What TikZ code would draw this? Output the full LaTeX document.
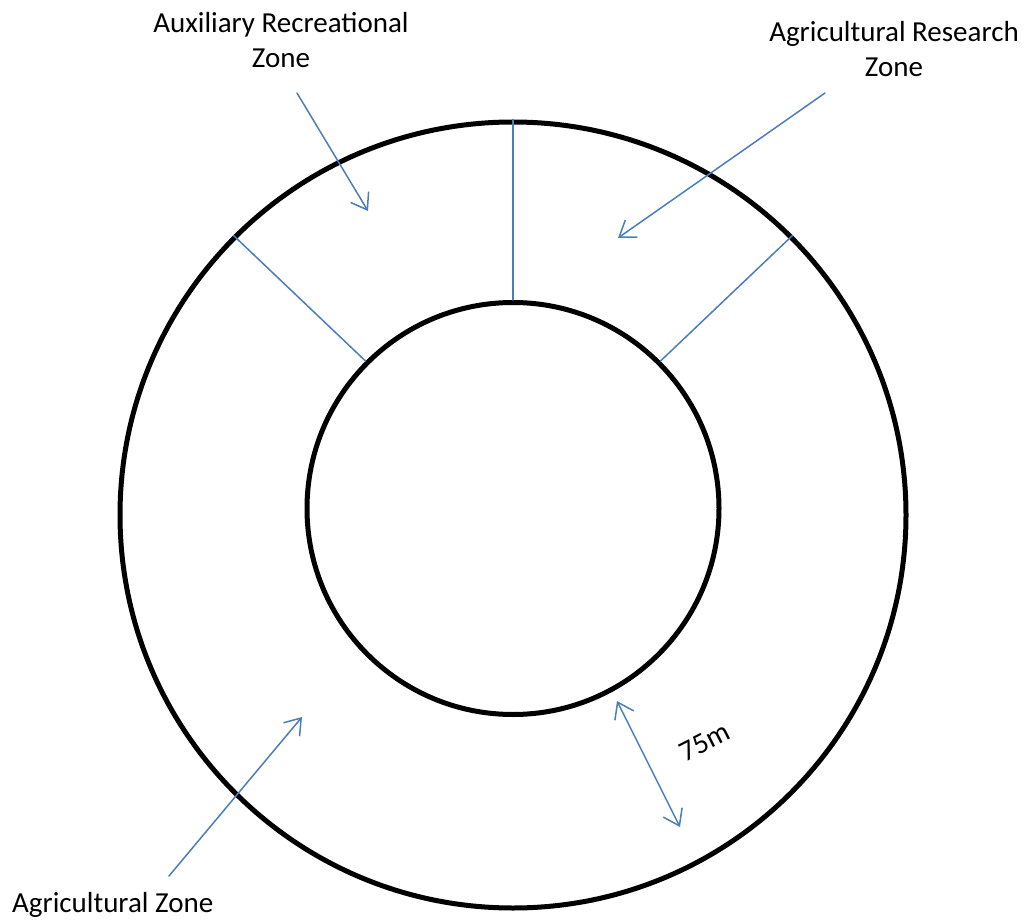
\documentclass[tikz,border=0pt]{standalone}
\usepackage{fontspec}
\setmainfont{Carlito}
\usetikzlibrary{arrows.meta}
\definecolor{zoneblue}{RGB}{74,126,187}

\begin{document}
\begin{tikzpicture}[x=1pt,y=-1pt,line cap=round,line join=round,
    barb/.tip={Straight Barb[length=15pt,width=21pt,line width=1.5pt]},
    ring/.style={draw,circle,line width=5pt,inner sep=0pt},
    divider/.style={zoneblue,line width=1.5pt},
    pointer/.style={zoneblue,line width=1.5pt,-barb},
    label/.style={font=\fontsize{29}{35}\selectfont,inner sep=0pt,align=center}]
            \useasboundingbox (0,0) rectangle (1028,920);

            \node[ring,minimum size=786pt] (outer) at (513,515) {};
            \node[ring,minimum size=412pt] (inner) at (513,508.5) {};

            \foreach \a in {45,90,135}
                \draw[divider] (inner.\a) -- (outer.\a);

            \node[label] (aux) at (281,40) {Auxiliary Recreational\\Zone};
            \node[label] (research) at (894,49) {Agricultural Research\\Zone};
            \node[label,anchor=base west] (agri) at (12,912) {Agricultural Zone};
            \node[label,rotate=27] (width) at (705,742) {75m};

            \coordinate (auxtail) at (297,93);
            \coordinate (auxtip) at (368,211);
            \coordinate (restail) at (825,93);
            \coordinate (restip) at (618,238);
            \coordinate (agritail) at (169,876);
            \coordinate (agritip) at (302,717);
            \coordinate (wa) at (617,701);
            \coordinate (wb) at (680,827);

            \draw[pointer] (auxtail) -- (auxtip);
            \draw[pointer] (restail) -- (restip);
            \draw[pointer] (agritail) -- (agritip);
            \draw[pointer,barb-barb] (wa) -- (wb);
        \end{tikzpicture}
\end{document}
